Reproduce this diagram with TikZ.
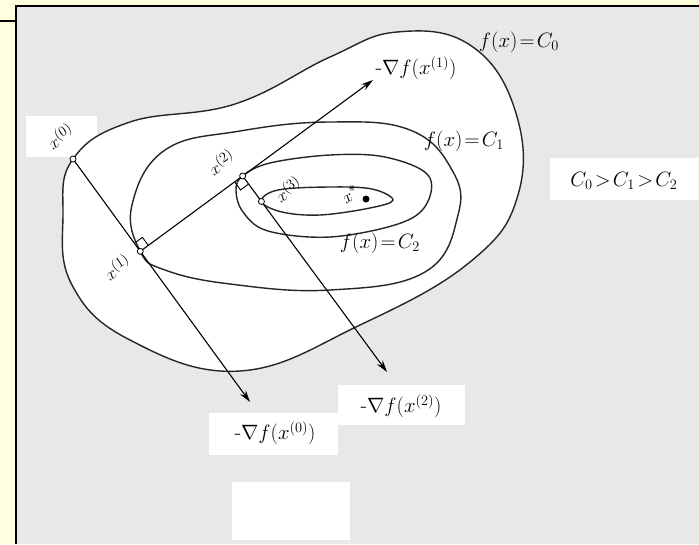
\documentclass[tikz,border=0pt]{standalone}
\usepackage{amsmath,amssymb}
\usepackage{xcolor}
\usepackage{tikz}
\usetikzlibrary{arrows.meta, calc}
\definecolor{paleyellow}{RGB}{255,255,224}
\definecolor{panelgray}{RGB}{232,232,232}

\begin{document}
\begin{tikzpicture}[x=1pt, y=-1pt,
  every node/.style={font=\fontsize{22}{25}\selectfont, inner sep=0pt},
  contour/.style={draw=black!85, line width=1.4pt, fill=white},
  arrow/.style={line width=1.1pt, -{Stealth[length=12pt,width=7pt]}},
  pt/.style={draw, fill=white, line width=0.8pt},
  whitebox/.style={fill=white},
  xlbl/.style={rotate=33, font=\fontsize{19}{22}\selectfont},
  rightangle/.style={line width=0.9pt}]

% frame
\useasboundingbox (0,0) rectangle (699,544);
\fill[paleyellow] (0,0) rectangle (699,544);
\fill[panelgray] (16,6) rectangle (699,544);
\draw[line width=2pt] (16,544) -- (16,6) -- (699,6);
\draw[line width=1.5pt] (0,21) -- (16,21);

% white label boxes
\fill[whitebox] (26,116) rectangle (97,157);
\fill[whitebox] (550,158) rectangle (699,200);
\fill[whitebox] (338,385) rectangle (465,425);
\fill[whitebox] (209,413) rectangle (338,455);
\fill[whitebox] (232,482) rectangle (350,540);

% iterates and arrow tips
\coordinate (x0) at (73,159);
\coordinate (g0) at (250,402);
\coordinate (x1) at ($(x0)!0.38!(g0)$);
\coordinate (g1) at (373,80);
\coordinate (x2) at ($(x1)!0.44!(g1)$);
\coordinate (g2) at (387,372);
\coordinate (x3) at ($(x2)!0.13!(g2)$);
\coordinate (xs) at (366,199);

% level curves
\draw[contour] plot[smooth cycle, tension=0.7] coordinates {
  (x0) (130,122) (235,104) (330,57) (397,32) (470,45) (515,110)
  (518,195) (470,262) (360,325) (240,371) (130,340) (72,285) (63,215)};
\draw[contour] plot[smooth cycle, tension=0.7] coordinates {
  (x1) (132,205) (165,150) (240,131) (330,122) (410,130) (452,170)
  (458,215) (425,272) (330,290) (230,284) (165,270)};
\draw[contour] plot[smooth cycle, tension=0.6] coordinates {
  (x2) (270,163) (330,155) (385,157) (428,175) (426,205) (398,224)
  (330,237) (268,231) (243,212) (236,190)};
\draw[contour] plot[smooth cycle, tension=0.6] coordinates {
  (x3) (278,190) (330,187) (372,189) (393,200) (370,208) (320,215)
  (282,212)};

% search directions
\draw[arrow] (x0) -- (g0);
\draw[arrow] (x1) -- (g1);
\draw[arrow] (x2) -- (g2);

% right angles
\coordinate (ra) at ($(x1)!10pt!(x0)$);
\coordinate (rb) at ($(x1)!10pt!(g1)$);
\draw[rightangle] (ra) -- ($(ra)+(rb)-(x1)$) -- (rb);
\coordinate (rc) at ($(x2)!10pt!(x1)$);
\coordinate (rd) at ($(x2)!10pt!(g2)$);
\draw[rightangle] (rc) -- ($(rc)+(rd)-(x2)$) -- (rd);

% points
\foreach \p in {x0,x1,x2,x3}
  \draw[pt] (\p) circle (3pt);
\fill (xs) circle (3.5pt);

% labels
\node (lx0) [xlbl] at (60,136) {$x^{(0)}$};
\node (lx1) [xlbl] at (117,267) {$x^{(1)}$};
\node (lx2) [xlbl] at (221,162) {$x^{(2)}$};
\node (lx3) [xlbl] at (288,189) {$x^{(3)}$};
\node (lxs) [xlbl] at (350,194) {$x^{*}$};
\node (lc0) at (519,42) {$f(x)\!=\!C_0$};
\node (lc1) at (464,141) {$f(x)\!=\!C_1$};
\node (lc2) at (380,243) {$f(x)\!=\!C_2$};
\node (lg1) at (416,68) {$\text{-}\nabla f(x^{(1)})$};
\node (lg2) at (401,406) {$\text{-}\nabla f(x^{(2)})$};
\node (lg0) at (275,433) {$\text{-}\nabla f(x^{(0)})$};
\node (lord) at (624,181) {$C_0\!>\!C_1\!>\!C_2$};

\end{tikzpicture}
\end{document}
